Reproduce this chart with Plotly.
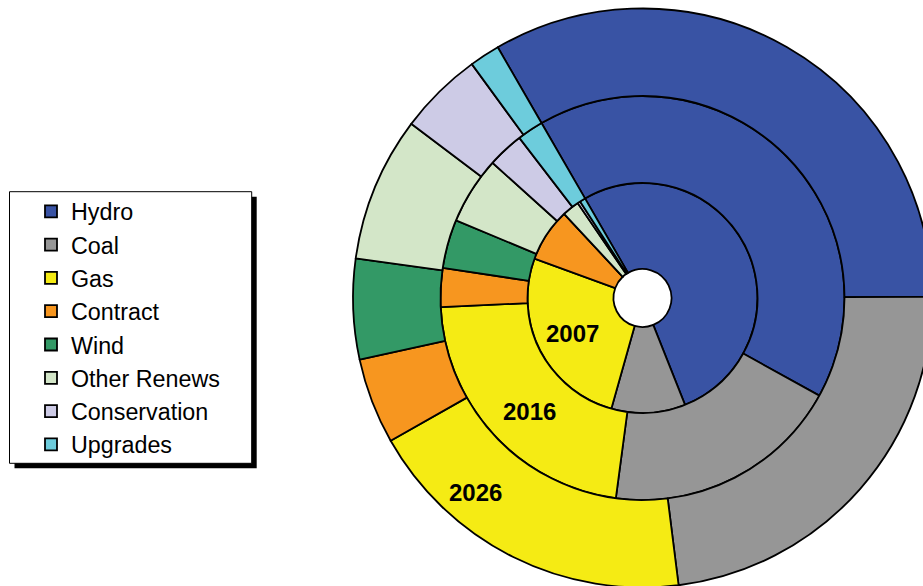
import plotly.graph_objects as go

# ---- data (percent shares) ----
sources = ["Hydro", "Coal", "Gas", "Contract", "Wind", "Other Renews", "Conservation", "Upgrades"]
colors = ["#3953A4", "#969696", "#F5EB14", "#F7961F", "#339966", "#D3E6C8", "#CDCBE6", "#6DCCDC"]
years = ["2007", "2016", "2026"]
share_2007 = [52.3, 10.4, 26.2, 7.5, 0.0, 2.4, 0.4, 0.8]
share_2016 = [41.4, 19.1, 22.2, 3.1, 3.9, 5.4, 2.9, 2.1]
share_2026 = [33.3, 23.1, 18.8, 4.8, 5.6, 8.1, 4.7, 1.7]
series = [share_2007, share_2016, share_2026]

# canvas slightly larger than the 923x586 window: the outer ring is cut by the
# window edges in the reference, exactly as here
W, H = 932, 588
cx, cy = 642.5, 298.0
ring_outer = [115.0, 202.0, 289.5]
hole_r = 29.0


def dom(r):
    x0 = max(0.0, (cx - r) / W)
    x1 = min(1.0, (cx + r) / W)
    y0 = max(0.0, 1 - (cy + r) / H)
    y1 = min(1.0, 1 - (cy - r) / H)
    return dict(x=[x0, x1], y=[y0, y1])


fig = go.Figure()
inner_edges = [hole_r] + ring_outer[:-1]
for i, (yr, vals) in enumerate(zip(years, series)):
    r = ring_outer[i]
    fig.add_trace(go.Pie(
        labels=sources,
        values=vals,
        name=yr,
        sort=False,
        direction="clockwise",
        rotation=330,
        hole=inner_edges[i] / r,
        domain=dom(r),
        marker=dict(colors=colors, line=dict(color="black", width=1.8)),
        textinfo="none",
        hoverinfo="label+percent+name",
        showlegend=(i == 0),
    ))

# year labels
label_pos = [(572.5, 333.5), (529.7, 411.3), (475.0, 492.0)]
for yr, (px, py) in zip(years, label_pos):
    fig.add_annotation(
        x=px / W, y=1 - py / H, xref="paper", yref="paper",
        xanchor="center", yanchor="middle",
        text="<b>%s</b>" % yr, showarrow=False,
        font=dict(family="Liberation Sans, Arial", size=24, color="black"),
    )

# legend frame with shadow
fig.add_shape(type="rect", xref="paper", yref="paper",
              x0=14.5 / W, x1=256.7 / W, y0=1 - 468.3 / H, y1=1 - 196.7 / H,
              fillcolor="black", line=dict(width=0), layer="below")
fig.add_shape(type="rect", xref="paper", yref="paper",
              x0=9.5 / W, x1=251.7 / W, y0=1 - 463.3 / H, y1=1 - 191.7 / H,
              fillcolor="white", line=dict(color="black", width=1), layer="below")

fig.update_layout(
    width=W, height=H,
    margin=dict(l=0, r=0, t=0, b=0),
    paper_bgcolor="white",
    plot_bgcolor="white",
    showlegend=True,
    legend=dict(
        x=31 / W, y=1 - 189.7 / H, xanchor="left", yanchor="top",
        bgcolor="rgba(0,0,0,0)", borderwidth=0,
        font=dict(family="Liberation Sans, Arial", size=23.3, color="black"),
        traceorder="normal",
    ),
)

fig.write_html(
    "out.html",
    config={"displayModeBar": False},
    post_script="document.body.style.margin='0px';document.body.style.overflow='hidden';",
)
